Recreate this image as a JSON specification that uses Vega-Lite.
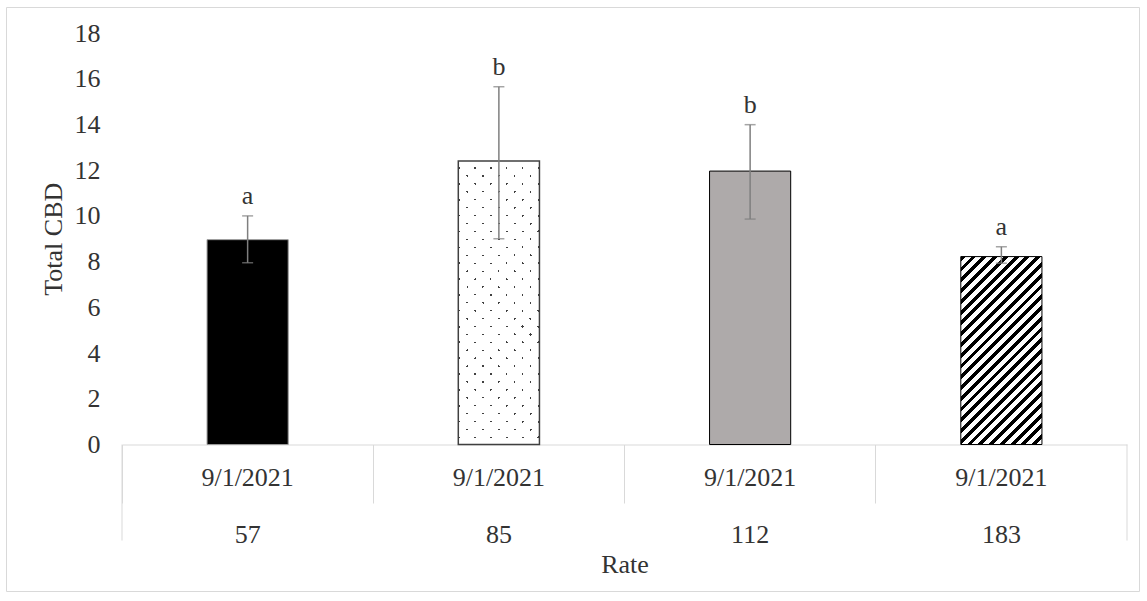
{
  "$schema": "https://vega.github.io/schema/vega-lite/v6.json",
  "width": 1133,
  "height": 584,
  "autosize": {"type": "none"},
  "padding": {"left": 6, "top": 7, "right": 8, "bottom": 10},
  "background": "#ffffff",
  "config": {"view": {"stroke": "#d9d9d9", "strokeWidth": 1}, "font": "Liberation Serif"},
  "data": {
    "values": [
      {"rate": 57, "date": "9/1/2021", "mean": 8.96, "lo": 7.95, "hi": 10.0, "letter": "a"},
      {"rate": 85, "date": "9/1/2021", "mean": 12.4, "lo": 9.0, "hi": 15.65, "letter": "b"},
      {"rate": 112, "date": "9/1/2021", "mean": 11.96, "lo": 9.86, "hi": 13.99, "letter": "b"},
      {"rate": 183, "date": "9/1/2021", "mean": 8.22, "lo": 7.93, "hi": 8.65, "letter": "a"}
    ]
  },
  "encoding": {
    "x": {
      "field": "rate",
      "type": "ordinal",
      "title": "Rate",
      "scale": {"range": [116, 1121], "paddingInner": 0, "paddingOuter": 0},
      "axis": {
        "orient": "bottom",
        "offset": -146.5,
        "domainColor": "#d9d9d9",
        "domainWidth": 1,
        "ticks": true,
        "tickColor": "#d9d9d9",
        "tickWidth": 1,
        "tickSize": 58.5,
        "bandPosition": 0,
        "grid": false,
        "labelExpr": "['9/1/2021', datum.label]",
        "labelFontSize": 26,
        "labelFont": "Liberation Serif",
        "labelColor": "#333333",
        "labelLineHeight": 57,
        "labelBaseline": "top",
        "labelPadding": -39,
        "labelAngle": 0,
        "labelOverlap": false,
        "labelBound": false,
        "labelFlush": false,
        "titleFontSize": 26,
        "titleFont": "Liberation Serif",
        "titleFontWeight": "normal",
        "titleColor": "#333333",
        "titleY": 120,
        "titleBaseline": "middle"
      }
    }
  },
  "layer": [
    {
      "transform": [{"filter": "datum.rate == 57"}],
      "mark": {"type": "bar", "width": {"band": 0.323}, "fill": "#000000", "stroke": "#999999", "strokeWidth": 1},
      "encoding": {
        "y": {
          "field": "mean", "type": "quantitative", "title": "Total CBD",
          "scale": {"domain": [0, 18], "range": [437.5, 26]},
          "axis": {
            "values": [0, 2, 4, 6, 8, 10, 12, 14, 16, 18],
            "grid": false, "domain": false, "ticks": false, "tickSize": 0,
            "labelPadding": 0, "offset": -94,
            "labelFontSize": 26, "labelFont": "Liberation Serif", "labelColor": "#333333",
            "titleFontSize": 26, "titleFont": "Liberation Serif", "titleFontWeight": "normal",
            "titleColor": "#333333", "titlePadding": 8
          }
        }
      }
    },
    {
      "transform": [{"filter": "datum.rate == 85"}],
      "mark": {
        "type": "bar", "width": {"band": 0.323}, "strokeWidth": 0,
        "fill": {
          "gradient": "linear", "x1": 0, "y1": 0, "x2": 0.3403, "y2": 1.1887,
          "stops": [
            {"offset": 0.019, "color": "#ffffff"}, {"offset": 0.019, "color": "#404040"}, {"offset": 0.025, "color": "#404040"}, {"offset": 0.025, "color": "#ffffff"},
            {"offset": 0.062, "color": "#ffffff"}, {"offset": 0.062, "color": "#404040"}, {"offset": 0.068, "color": "#404040"}, {"offset": 0.068, "color": "#ffffff"},
            {"offset": 0.106, "color": "#ffffff"}, {"offset": 0.106, "color": "#404040"}, {"offset": 0.112, "color": "#404040"}, {"offset": 0.112, "color": "#ffffff"},
            {"offset": 0.149, "color": "#ffffff"}, {"offset": 0.149, "color": "#404040"}, {"offset": 0.155, "color": "#404040"}, {"offset": 0.155, "color": "#ffffff"},
            {"offset": 0.193, "color": "#ffffff"}, {"offset": 0.193, "color": "#404040"}, {"offset": 0.199, "color": "#404040"}, {"offset": 0.199, "color": "#ffffff"},
            {"offset": 0.236, "color": "#ffffff"}, {"offset": 0.236, "color": "#404040"}, {"offset": 0.242, "color": "#404040"}, {"offset": 0.242, "color": "#ffffff"},
            {"offset": 0.28, "color": "#ffffff"}, {"offset": 0.28, "color": "#404040"}, {"offset": 0.286, "color": "#404040"}, {"offset": 0.286, "color": "#ffffff"},
            {"offset": 0.323, "color": "#ffffff"}, {"offset": 0.323, "color": "#404040"}, {"offset": 0.329, "color": "#404040"}, {"offset": 0.329, "color": "#ffffff"},
            {"offset": 0.367, "color": "#ffffff"}, {"offset": 0.367, "color": "#404040"}, {"offset": 0.373, "color": "#404040"}, {"offset": 0.373, "color": "#ffffff"},
            {"offset": 0.41, "color": "#ffffff"}, {"offset": 0.41, "color": "#404040"}, {"offset": 0.416, "color": "#404040"}, {"offset": 0.416, "color": "#ffffff"},
            {"offset": 0.454, "color": "#ffffff"}, {"offset": 0.454, "color": "#404040"}, {"offset": 0.46, "color": "#404040"}, {"offset": 0.46, "color": "#ffffff"},
            {"offset": 0.497, "color": "#ffffff"}, {"offset": 0.497, "color": "#404040"}, {"offset": 0.503, "color": "#404040"}, {"offset": 0.503, "color": "#ffffff"},
            {"offset": 0.54, "color": "#ffffff"}, {"offset": 0.54, "color": "#404040"}, {"offset": 0.546, "color": "#404040"}, {"offset": 0.546, "color": "#ffffff"},
            {"offset": 0.584, "color": "#ffffff"}, {"offset": 0.584, "color": "#404040"}, {"offset": 0.59, "color": "#404040"}, {"offset": 0.59, "color": "#ffffff"},
            {"offset": 0.627, "color": "#ffffff"}, {"offset": 0.627, "color": "#404040"}, {"offset": 0.633, "color": "#404040"}, {"offset": 0.633, "color": "#ffffff"},
            {"offset": 0.671, "color": "#ffffff"}, {"offset": 0.671, "color": "#404040"}, {"offset": 0.677, "color": "#404040"}, {"offset": 0.677, "color": "#ffffff"},
            {"offset": 0.714, "color": "#ffffff"}, {"offset": 0.714, "color": "#404040"}, {"offset": 0.72, "color": "#404040"}, {"offset": 0.72, "color": "#ffffff"},
            {"offset": 0.758, "color": "#ffffff"}, {"offset": 0.758, "color": "#404040"}, {"offset": 0.764, "color": "#404040"}, {"offset": 0.764, "color": "#ffffff"},
            {"offset": 0.801, "color": "#ffffff"}, {"offset": 0.801, "color": "#404040"}, {"offset": 0.807, "color": "#404040"}, {"offset": 0.807, "color": "#ffffff"},
            {"offset": 0.845, "color": "#ffffff"}, {"offset": 0.845, "color": "#404040"}, {"offset": 0.851, "color": "#404040"}, {"offset": 0.851, "color": "#ffffff"},
            {"offset": 0.888, "color": "#ffffff"}, {"offset": 0.888, "color": "#404040"}, {"offset": 0.894, "color": "#404040"}, {"offset": 0.894, "color": "#ffffff"},
            {"offset": 0.932, "color": "#ffffff"}, {"offset": 0.932, "color": "#404040"}, {"offset": 0.938, "color": "#404040"}, {"offset": 0.938, "color": "#ffffff"},
            {"offset": 0.975, "color": "#ffffff"}, {"offset": 0.975, "color": "#404040"}, {"offset": 0.981, "color": "#404040"}, {"offset": 0.981, "color": "#ffffff"}
          ]
        }
      },
      "encoding": {
        "y": {"field": "mean", "type": "quantitative", "title": "Total CBD", "scale": {"domain": [0, 18], "range": [437.5, 26]}}
      }
    },
    {
      "transform": [{"filter": "datum.rate == 85"}],
      "mark": {
        "type": "bar", "width": {"band": 0.323}, "stroke": "#404040", "strokeWidth": 1.5,
        "fill": {
          "gradient": "linear", "x1": 0, "y1": 1, "x2": 0.3403, "y2": -0.1887,
          "stops": [
            {"offset": 0.019, "color": "#ffffff"}, {"offset": 0.019, "color": "rgba(255,255,255,0)"}, {"offset": 0.025, "color": "rgba(255,255,255,0)"}, {"offset": 0.025, "color": "#ffffff"},
            {"offset": 0.062, "color": "#ffffff"}, {"offset": 0.062, "color": "rgba(255,255,255,0)"}, {"offset": 0.068, "color": "rgba(255,255,255,0)"}, {"offset": 0.068, "color": "#ffffff"},
            {"offset": 0.106, "color": "#ffffff"}, {"offset": 0.106, "color": "rgba(255,255,255,0)"}, {"offset": 0.112, "color": "rgba(255,255,255,0)"}, {"offset": 0.112, "color": "#ffffff"},
            {"offset": 0.149, "color": "#ffffff"}, {"offset": 0.149, "color": "rgba(255,255,255,0)"}, {"offset": 0.155, "color": "rgba(255,255,255,0)"}, {"offset": 0.155, "color": "#ffffff"},
            {"offset": 0.193, "color": "#ffffff"}, {"offset": 0.193, "color": "rgba(255,255,255,0)"}, {"offset": 0.199, "color": "rgba(255,255,255,0)"}, {"offset": 0.199, "color": "#ffffff"},
            {"offset": 0.236, "color": "#ffffff"}, {"offset": 0.236, "color": "rgba(255,255,255,0)"}, {"offset": 0.242, "color": "rgba(255,255,255,0)"}, {"offset": 0.242, "color": "#ffffff"},
            {"offset": 0.28, "color": "#ffffff"}, {"offset": 0.28, "color": "rgba(255,255,255,0)"}, {"offset": 0.286, "color": "rgba(255,255,255,0)"}, {"offset": 0.286, "color": "#ffffff"},
            {"offset": 0.323, "color": "#ffffff"}, {"offset": 0.323, "color": "rgba(255,255,255,0)"}, {"offset": 0.329, "color": "rgba(255,255,255,0)"}, {"offset": 0.329, "color": "#ffffff"},
            {"offset": 0.367, "color": "#ffffff"}, {"offset": 0.367, "color": "rgba(255,255,255,0)"}, {"offset": 0.373, "color": "rgba(255,255,255,0)"}, {"offset": 0.373, "color": "#ffffff"},
            {"offset": 0.41, "color": "#ffffff"}, {"offset": 0.41, "color": "rgba(255,255,255,0)"}, {"offset": 0.416, "color": "rgba(255,255,255,0)"}, {"offset": 0.416, "color": "#ffffff"},
            {"offset": 0.454, "color": "#ffffff"}, {"offset": 0.454, "color": "rgba(255,255,255,0)"}, {"offset": 0.46, "color": "rgba(255,255,255,0)"}, {"offset": 0.46, "color": "#ffffff"},
            {"offset": 0.497, "color": "#ffffff"}, {"offset": 0.497, "color": "rgba(255,255,255,0)"}, {"offset": 0.503, "color": "rgba(255,255,255,0)"}, {"offset": 0.503, "color": "#ffffff"},
            {"offset": 0.54, "color": "#ffffff"}, {"offset": 0.54, "color": "rgba(255,255,255,0)"}, {"offset": 0.546, "color": "rgba(255,255,255,0)"}, {"offset": 0.546, "color": "#ffffff"},
            {"offset": 0.584, "color": "#ffffff"}, {"offset": 0.584, "color": "rgba(255,255,255,0)"}, {"offset": 0.59, "color": "rgba(255,255,255,0)"}, {"offset": 0.59, "color": "#ffffff"},
            {"offset": 0.627, "color": "#ffffff"}, {"offset": 0.627, "color": "rgba(255,255,255,0)"}, {"offset": 0.633, "color": "rgba(255,255,255,0)"}, {"offset": 0.633, "color": "#ffffff"},
            {"offset": 0.671, "color": "#ffffff"}, {"offset": 0.671, "color": "rgba(255,255,255,0)"}, {"offset": 0.677, "color": "rgba(255,255,255,0)"}, {"offset": 0.677, "color": "#ffffff"},
            {"offset": 0.714, "color": "#ffffff"}, {"offset": 0.714, "color": "rgba(255,255,255,0)"}, {"offset": 0.72, "color": "rgba(255,255,255,0)"}, {"offset": 0.72, "color": "#ffffff"},
            {"offset": 0.758, "color": "#ffffff"}, {"offset": 0.758, "color": "rgba(255,255,255,0)"}, {"offset": 0.764, "color": "rgba(255,255,255,0)"}, {"offset": 0.764, "color": "#ffffff"},
            {"offset": 0.801, "color": "#ffffff"}, {"offset": 0.801, "color": "rgba(255,255,255,0)"}, {"offset": 0.807, "color": "rgba(255,255,255,0)"}, {"offset": 0.807, "color": "#ffffff"},
            {"offset": 0.845, "color": "#ffffff"}, {"offset": 0.845, "color": "rgba(255,255,255,0)"}, {"offset": 0.851, "color": "rgba(255,255,255,0)"}, {"offset": 0.851, "color": "#ffffff"},
            {"offset": 0.888, "color": "#ffffff"}, {"offset": 0.888, "color": "rgba(255,255,255,0)"}, {"offset": 0.894, "color": "rgba(255,255,255,0)"}, {"offset": 0.894, "color": "#ffffff"},
            {"offset": 0.932, "color": "#ffffff"}, {"offset": 0.932, "color": "rgba(255,255,255,0)"}, {"offset": 0.938, "color": "rgba(255,255,255,0)"}, {"offset": 0.938, "color": "#ffffff"},
            {"offset": 0.975, "color": "#ffffff"}, {"offset": 0.975, "color": "rgba(255,255,255,0)"}, {"offset": 0.981, "color": "rgba(255,255,255,0)"}, {"offset": 0.981, "color": "#ffffff"}
          ]
        }
      },
      "encoding": {
        "y": {"field": "mean", "type": "quantitative", "title": "Total CBD", "scale": {"domain": [0, 18], "range": [437.5, 26]}}
      }
    },
    {
      "transform": [{"filter": "datum.rate == 112"}],
      "mark": {"type": "bar", "width": {"band": 0.323}, "fill": "#aeaaaa", "stroke": "#000000", "strokeWidth": 1},
      "encoding": {
        "y": {"field": "mean", "type": "quantitative", "title": "Total CBD", "scale": {"domain": [0, 18], "range": [437.5, 26]}}
      }
    },
    {
      "transform": [{"filter": "datum.rate == 183"}],
      "mark": {
        "type": "bar", "width": {"band": 0.323}, "stroke": "#000000", "strokeWidth": 1,
        "fill": {
          "gradient": "linear", "x1": 0, "y1": 0, "x2": 0.5211, "y2": 1.2068,
          "stops": [
            {"offset": 0, "color": "#000000"}, {"offset": 0.018, "color": "#000000"}, {"offset": 0.018, "color": "#ffffff"}, {"offset": 0.04, "color": "#ffffff"},
            {"offset": 0.04, "color": "#000000"}, {"offset": 0.058, "color": "#000000"}, {"offset": 0.058, "color": "#ffffff"}, {"offset": 0.08, "color": "#ffffff"},
            {"offset": 0.08, "color": "#000000"}, {"offset": 0.098, "color": "#000000"}, {"offset": 0.098, "color": "#ffffff"}, {"offset": 0.12, "color": "#ffffff"},
            {"offset": 0.12, "color": "#000000"}, {"offset": 0.138, "color": "#000000"}, {"offset": 0.138, "color": "#ffffff"}, {"offset": 0.16, "color": "#ffffff"},
            {"offset": 0.16, "color": "#000000"}, {"offset": 0.178, "color": "#000000"}, {"offset": 0.178, "color": "#ffffff"}, {"offset": 0.2, "color": "#ffffff"},
            {"offset": 0.2, "color": "#000000"}, {"offset": 0.218, "color": "#000000"}, {"offset": 0.218, "color": "#ffffff"}, {"offset": 0.24, "color": "#ffffff"},
            {"offset": 0.24, "color": "#000000"}, {"offset": 0.258, "color": "#000000"}, {"offset": 0.258, "color": "#ffffff"}, {"offset": 0.28, "color": "#ffffff"},
            {"offset": 0.28, "color": "#000000"}, {"offset": 0.298, "color": "#000000"}, {"offset": 0.298, "color": "#ffffff"}, {"offset": 0.32, "color": "#ffffff"},
            {"offset": 0.32, "color": "#000000"}, {"offset": 0.338, "color": "#000000"}, {"offset": 0.338, "color": "#ffffff"}, {"offset": 0.36, "color": "#ffffff"},
            {"offset": 0.36, "color": "#000000"}, {"offset": 0.378, "color": "#000000"}, {"offset": 0.378, "color": "#ffffff"}, {"offset": 0.4, "color": "#ffffff"},
            {"offset": 0.4, "color": "#000000"}, {"offset": 0.418, "color": "#000000"}, {"offset": 0.418, "color": "#ffffff"}, {"offset": 0.44, "color": "#ffffff"},
            {"offset": 0.44, "color": "#000000"}, {"offset": 0.458, "color": "#000000"}, {"offset": 0.458, "color": "#ffffff"}, {"offset": 0.48, "color": "#ffffff"},
            {"offset": 0.48, "color": "#000000"}, {"offset": 0.498, "color": "#000000"}, {"offset": 0.498, "color": "#ffffff"}, {"offset": 0.52, "color": "#ffffff"},
            {"offset": 0.52, "color": "#000000"}, {"offset": 0.538, "color": "#000000"}, {"offset": 0.538, "color": "#ffffff"}, {"offset": 0.56, "color": "#ffffff"},
            {"offset": 0.56, "color": "#000000"}, {"offset": 0.578, "color": "#000000"}, {"offset": 0.578, "color": "#ffffff"}, {"offset": 0.6, "color": "#ffffff"},
            {"offset": 0.6, "color": "#000000"}, {"offset": 0.618, "color": "#000000"}, {"offset": 0.618, "color": "#ffffff"}, {"offset": 0.64, "color": "#ffffff"},
            {"offset": 0.64, "color": "#000000"}, {"offset": 0.658, "color": "#000000"}, {"offset": 0.658, "color": "#ffffff"}, {"offset": 0.68, "color": "#ffffff"},
            {"offset": 0.68, "color": "#000000"}, {"offset": 0.698, "color": "#000000"}, {"offset": 0.698, "color": "#ffffff"}, {"offset": 0.72, "color": "#ffffff"},
            {"offset": 0.72, "color": "#000000"}, {"offset": 0.738, "color": "#000000"}, {"offset": 0.738, "color": "#ffffff"}, {"offset": 0.76, "color": "#ffffff"},
            {"offset": 0.76, "color": "#000000"}, {"offset": 0.778, "color": "#000000"}, {"offset": 0.778, "color": "#ffffff"}, {"offset": 0.8, "color": "#ffffff"},
            {"offset": 0.8, "color": "#000000"}, {"offset": 0.818, "color": "#000000"}, {"offset": 0.818, "color": "#ffffff"}, {"offset": 0.84, "color": "#ffffff"},
            {"offset": 0.84, "color": "#000000"}, {"offset": 0.858, "color": "#000000"}, {"offset": 0.858, "color": "#ffffff"}, {"offset": 0.88, "color": "#ffffff"},
            {"offset": 0.88, "color": "#000000"}, {"offset": 0.898, "color": "#000000"}, {"offset": 0.898, "color": "#ffffff"}, {"offset": 0.92, "color": "#ffffff"},
            {"offset": 0.92, "color": "#000000"}, {"offset": 0.938, "color": "#000000"}, {"offset": 0.938, "color": "#ffffff"}, {"offset": 0.96, "color": "#ffffff"},
            {"offset": 0.96, "color": "#000000"}, {"offset": 0.978, "color": "#000000"}, {"offset": 0.978, "color": "#ffffff"}, {"offset": 1, "color": "#ffffff"}
          ]
        }
      },
      "encoding": {
        "y": {"field": "mean", "type": "quantitative", "title": "Total CBD", "scale": {"domain": [0, 18], "range": [437.5, 26]}}
      }
    },
    {
      "mark": {"type": "rule", "color": "#7f7f7f", "strokeWidth": 1.5},
      "encoding": {
        "y": {"field": "lo", "type": "quantitative", "title": "Total CBD", "scale": {"domain": [0, 18], "range": [437.5, 26]}},
        "y2": {"field": "hi"}
      }
    },
    {
      "mark": {"type": "tick", "color": "#7f7f7f", "size": 11, "thickness": 1.5, "orient": "horizontal"},
      "encoding": {
        "y": {"field": "hi", "type": "quantitative", "title": "Total CBD", "scale": {"domain": [0, 18], "range": [437.5, 26]}}
      }
    },
    {
      "mark": {"type": "tick", "color": "#7f7f7f", "size": 11, "thickness": 1.5, "orient": "horizontal"},
      "encoding": {
        "y": {"field": "lo", "type": "quantitative", "title": "Total CBD", "scale": {"domain": [0, 18], "range": [437.5, 26]}}
      }
    },
    {
      "mark": {"type": "text", "fontSize": 26, "font": "Liberation Serif", "color": "#333333", "baseline": "alphabetic", "dy": -12},
      "encoding": {
        "y": {"field": "hi", "type": "quantitative", "title": "Total CBD", "scale": {"domain": [0, 18], "range": [437.5, 26]}},
        "text": {"field": "letter"}
      }
    },
    {
      "transform": [{"filter": "datum.rate == 57"}],
      "mark": {"type": "rule", "color": "#d9d9d9", "strokeWidth": 1},
      "encoding": {
        "x": {"field": "rate", "type": "ordinal", "bandPosition": 0, "title": "Rate"},
        "y": {"datum": -4.2, "type": "quantitative", "title": "Total CBD", "scale": {"domain": [0, 18], "range": [437.5, 26]}},
        "y2": {"datum": 0}
      }
    },
    {
      "transform": [{"filter": "datum.rate == 183"}],
      "mark": {"type": "rule", "color": "#d9d9d9", "strokeWidth": 1},
      "encoding": {
        "x": {"field": "rate", "type": "ordinal", "bandPosition": 1, "title": "Rate"},
        "y": {"datum": -4.2, "type": "quantitative", "title": "Total CBD", "scale": {"domain": [0, 18], "range": [437.5, 26]}},
        "y2": {"datum": 0}
      }
    }
  ]
}
